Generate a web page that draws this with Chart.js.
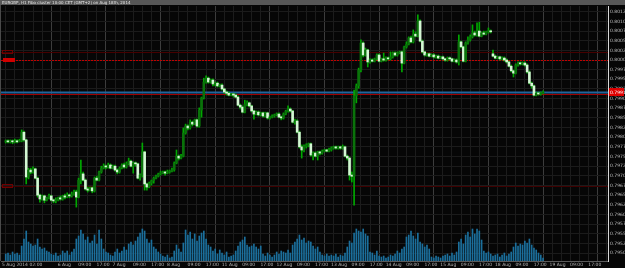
<!DOCTYPE html>
<html lang="en">
<head>
    <meta charset="UTF-8">
    <meta name="viewport" content="width=device-width, initial-scale=1.0">
    <title>EURGBP H1</title>
    <script src="https://cdn.jsdelivr.net/npm/chart.js"></script>
    <style>
        html, body { margin: 0; padding: 0; background: #000; }
        #wrap { position: relative; width: 625px; height: 268px; }
    </style>
</head>
<body>
    <div id="wrap"><canvas id="myChart"></canvas></div>

    <script>
        const chartTitle = "EURGBP, H1 Fibo cluster 10:00 CET (GMT+2) on Aug 18th, 2014";

        // hourly bars, 5 Aug 2014 02:00 -> 18 Aug 2014 22:00
        const opens = [
            0.79788,0.79790,0.79788,0.79790,0.79788,0.79790,0.79788,0.79790,0.79813,0.79793,
            0.79697,0.79715,0.79710,0.79718,0.79694,0.79650,0.79640,0.79648,0.79637,0.79643,
            0.79648,0.79637,0.79635,0.79637,0.79643,0.79640,0.79648,0.79645,0.79650,0.79648,
            0.79653,0.79658,0.79645,0.79689,0.79705,0.79689,0.79666,0.79663,0.79669,0.79661,
            0.79694,0.79689,0.79710,0.79720,0.79725,0.79723,0.79728,0.79720,0.79725,0.79715,
            0.79710,0.79720,0.79728,0.79723,0.79731,0.79738,0.79725,0.79733,0.79731,0.79694,
            0.79702,0.79762,0.79679,0.79671,0.79681,0.79687,0.79694,0.79699,0.79705,0.79707,
            0.79710,0.79707,0.79710,0.79712,0.79715,0.79733,0.79751,0.79746,0.79751,0.79811,
            0.79829,0.79824,0.79839,0.79834,0.79845,0.79829,0.79870,0.79902,0.79943,0.79953,
            0.79943,0.79948,0.79938,0.79940,0.79933,0.79935,0.79925,0.79917,0.79914,0.79909,
            0.79912,0.79909,0.79904,0.79883,0.79878,0.79865,0.79886,0.79889,0.79881,0.79868,
            0.79860,0.79865,0.79858,0.79863,0.79855,0.79863,0.79850,0.79852,0.79855,0.79858,
            0.79860,0.79852,0.79850,0.79860,0.79868,0.79873,0.79868,0.79839,0.79842,0.79813,
            0.79775,0.79767,0.79777,0.79780,0.79783,0.79754,0.79759,0.79751,0.79762,0.79759,
            0.79764,0.79767,0.79764,0.79767,0.79772,0.79775,0.79772,0.79775,0.79772,0.79775,
            0.79751,0.79746,0.79702,0.79699,0.79907,0.79933,0.79974,0.80044,0.80013,0.80026,
            0.79995,0.80000,0.79997,0.80003,0.80013,0.79997,0.80003,0.80000,0.80005,0.80003,
            0.80008,0.80018,0.80013,0.80018,0.80021,0.79992,0.80034,0.80041,0.80057,0.80047,
            0.80067,0.80062,0.80101,0.80049,0.80021,0.80013,0.80016,0.80010,0.80013,0.80008,
            0.80010,0.80005,0.80008,0.80003,0.80000,0.80005,0.80003,0.79997,0.80000,0.79995,
            0.80047,0.80034,0.79997,0.80044,0.80052,0.80060,0.80070,0.80065,0.80075,0.80062,
            0.80070,0.80067,0.80073,0.80075,0.80016,0.80010,0.80005,0.80008,0.80003,0.80005,
            0.80000,0.79995,0.79984,0.79972,0.79966,0.79987,0.79992,0.79990,0.79992,0.79987,
            0.79969,0.79940,0.79933,0.79909,0.79914,0.79912,0.79914
        ];
        const highs = [
            0.79793,0.79793,0.79793,0.79793,0.79795,0.79793,0.79795,0.79819,0.79816,0.79795,
            0.79720,0.79720,0.79723,0.79720,0.79697,0.79653,0.79650,0.79650,0.79645,0.79653,
            0.79650,0.79640,0.79643,0.79645,0.79648,0.79650,0.79653,0.79656,0.79653,0.79658,
            0.79663,0.79663,0.79694,0.79741,0.79710,0.79692,0.79671,0.79671,0.79671,0.79697,
            0.79699,0.79712,0.79725,0.79731,0.79728,0.79733,0.79731,0.79728,0.79728,0.79718,
            0.79723,0.79731,0.79733,0.79736,0.79746,0.79741,0.79736,0.79736,0.79733,0.79705,
            0.79785,0.79764,0.79681,0.79684,0.79689,0.79697,0.79702,0.79707,0.79712,0.79712,
            0.79712,0.79715,0.79715,0.79720,0.79736,0.79767,0.79754,0.79756,0.79824,0.79834,
            0.79832,0.79845,0.79842,0.79847,0.79847,0.79876,0.79904,0.79953,0.79959,0.79956,
            0.79951,0.79951,0.79943,0.79943,0.79938,0.79938,0.79927,0.79920,0.79917,0.79914,
            0.79914,0.79912,0.79907,0.79886,0.79881,0.79896,0.79894,0.79891,0.79883,0.79870,
            0.79868,0.79868,0.79865,0.79865,0.79865,0.79865,0.79855,0.79858,0.79860,0.79863,
            0.79863,0.79855,0.79863,0.79870,0.79881,0.79876,0.79870,0.79847,0.79845,0.79816,
            0.79780,0.79780,0.79783,0.79785,0.79785,0.79762,0.79762,0.79764,0.79764,0.79767,
            0.79769,0.79769,0.79772,0.79775,0.79777,0.79777,0.79777,0.79777,0.79780,0.79777,
            0.79754,0.79749,0.79710,0.79922,0.79938,0.79979,0.80052,0.80047,0.80031,0.80028,
            0.80003,0.80003,0.80005,0.80016,0.80016,0.80005,0.80018,0.80008,0.80008,0.80021,
            0.80021,0.80021,0.80021,0.80023,0.80023,0.80036,0.80047,0.80060,0.80062,0.80078,
            0.80073,0.80117,0.80104,0.80052,0.80023,0.80018,0.80018,0.80016,0.80016,0.80013,
            0.80013,0.80010,0.80010,0.80005,0.80008,0.80008,0.80005,0.80003,0.80003,0.80065,
            0.80049,0.80036,0.80047,0.80060,0.80065,0.80091,0.80075,0.80096,0.80098,0.80073,
            0.80075,0.80075,0.80083,0.80078,0.80026,0.80013,0.80010,0.80010,0.80008,0.80008,
            0.80003,0.79997,0.79987,0.79974,0.79990,0.79995,0.79995,0.79995,0.79995,0.79990,
            0.79972,0.79943,0.79935,0.79917,0.79917,0.79917,0.79920
        ];
        const lows = [
            0.79785,0.79785,0.79785,0.79783,0.79785,0.79785,0.79788,0.79788,0.79790,0.79679,
            0.79692,0.79705,0.79707,0.79692,0.79645,0.79632,0.79637,0.79630,0.79635,0.79640,
            0.79635,0.79630,0.79630,0.79635,0.79637,0.79637,0.79640,0.79643,0.79643,0.79645,
            0.79650,0.79619,0.79643,0.79679,0.79687,0.79663,0.79658,0.79661,0.79656,0.79658,
            0.79687,0.79687,0.79707,0.79718,0.79718,0.79720,0.79718,0.79718,0.79712,0.79705,
            0.79707,0.79718,0.79720,0.79720,0.79728,0.79723,0.79707,0.79725,0.79692,0.79689,
            0.79697,0.79663,0.79663,0.79669,0.79676,0.79681,0.79692,0.79697,0.79702,0.79705,
            0.79702,0.79705,0.79707,0.79710,0.79712,0.79731,0.79741,0.79744,0.79749,0.79808,
            0.79819,0.79821,0.79829,0.79832,0.79826,0.79826,0.79852,0.79899,0.79940,0.79940,
            0.79940,0.79933,0.79933,0.79930,0.79930,0.79922,0.79914,0.79909,0.79907,0.79907,
            0.79904,0.79902,0.79881,0.79873,0.79863,0.79863,0.79881,0.79878,0.79865,0.79847,
            0.79858,0.79855,0.79855,0.79852,0.79852,0.79847,0.79847,0.79850,0.79852,0.79855,
            0.79850,0.79845,0.79847,0.79858,0.79865,0.79865,0.79837,0.79834,0.79811,0.79772,
            0.79746,0.79762,0.79772,0.79775,0.79751,0.79741,0.79749,0.79741,0.79754,0.79756,
            0.79762,0.79762,0.79762,0.79764,0.79769,0.79769,0.79769,0.79769,0.79769,0.79749,
            0.79741,0.79689,0.79684,0.79624,0.79889,0.79927,0.79969,0.80008,0.80010,0.79982,
            0.79992,0.79995,0.79995,0.80000,0.79995,0.79995,0.79997,0.79997,0.80000,0.80000,
            0.80005,0.80010,0.80010,0.80016,0.79969,0.79990,0.80031,0.80039,0.80044,0.80044,
            0.80060,0.80060,0.80047,0.80018,0.80010,0.80010,0.80008,0.80008,0.80005,0.80005,
            0.80003,0.80003,0.80000,0.79997,0.79997,0.80000,0.79995,0.79995,0.79992,0.79987,
            0.80031,0.79995,0.79995,0.80041,0.80049,0.80057,0.80062,0.80062,0.80060,0.80060,
            0.80065,0.80065,0.80070,0.80070,0.80008,0.80003,0.80003,0.80000,0.80000,0.79997,
            0.79992,0.79982,0.79969,0.79956,0.79964,0.79984,0.79987,0.79987,0.79984,0.79966,
            0.79938,0.79927,0.79907,0.79907,0.79909,0.79909,0.79912
        ];
        const closes = [
            0.79790,0.79788,0.79790,0.79788,0.79790,0.79788,0.79790,0.79813,0.79793,0.79697,
            0.79715,0.79710,0.79718,0.79694,0.79650,0.79640,0.79648,0.79637,0.79643,0.79648,
            0.79637,0.79635,0.79637,0.79643,0.79640,0.79648,0.79645,0.79650,0.79648,0.79653,
            0.79658,0.79645,0.79689,0.79705,0.79689,0.79666,0.79663,0.79669,0.79661,0.79694,
            0.79689,0.79710,0.79720,0.79725,0.79723,0.79728,0.79720,0.79725,0.79715,0.79710,
            0.79720,0.79728,0.79723,0.79731,0.79738,0.79725,0.79733,0.79731,0.79694,0.79702,
            0.79762,0.79679,0.79671,0.79681,0.79687,0.79694,0.79699,0.79705,0.79707,0.79710,
            0.79707,0.79710,0.79712,0.79715,0.79733,0.79751,0.79746,0.79751,0.79811,0.79829,
            0.79824,0.79839,0.79834,0.79845,0.79829,0.79870,0.79902,0.79943,0.79953,0.79943,
            0.79948,0.79938,0.79940,0.79933,0.79935,0.79925,0.79917,0.79914,0.79909,0.79912,
            0.79909,0.79904,0.79883,0.79878,0.79865,0.79886,0.79889,0.79881,0.79868,0.79860,
            0.79865,0.79858,0.79863,0.79855,0.79863,0.79850,0.79852,0.79855,0.79858,0.79860,
            0.79852,0.79850,0.79860,0.79868,0.79873,0.79868,0.79839,0.79842,0.79813,0.79775,
            0.79767,0.79777,0.79780,0.79783,0.79754,0.79759,0.79751,0.79762,0.79759,0.79764,
            0.79767,0.79764,0.79767,0.79772,0.79775,0.79772,0.79775,0.79772,0.79775,0.79751,
            0.79746,0.79702,0.79699,0.79907,0.79933,0.79974,0.80044,0.80013,0.80026,0.79995,
            0.80000,0.79997,0.80003,0.80013,0.79997,0.80003,0.80000,0.80005,0.80003,0.80008,
            0.80018,0.80013,0.80018,0.80021,0.79992,0.80034,0.80041,0.80057,0.80047,0.80067,
            0.80062,0.80101,0.80049,0.80021,0.80013,0.80016,0.80010,0.80013,0.80008,0.80010,
            0.80005,0.80008,0.80003,0.80000,0.80005,0.80003,0.79997,0.80000,0.79995,0.80047,
            0.80034,0.79997,0.80044,0.80052,0.80060,0.80070,0.80065,0.80075,0.80062,0.80070,
            0.80067,0.80073,0.80075,0.80073,0.80010,0.80005,0.80008,0.80003,0.80005,0.80000,
            0.79995,0.79984,0.79972,0.79966,0.79987,0.79992,0.79990,0.79992,0.79987,0.79969,
            0.79940,0.79933,0.79909,0.79914,0.79912,0.79914,0.79917
        ];
        const volumes = [
            700,800,600,900,700,800,600,1500,2200,3000,
            1900,1700,1500,1600,2200,1400,1200,1300,1000,900,
            700,600,800,500,600,1000,800,1000,600,900,
            1200,2200,2500,3100,2700,2100,2400,1800,2000,2600,
            1700,3100,2200,1200,900,800,600,500,900,1200,
            800,1000,1400,1100,1700,1900,1600,2000,2400,2800,
            3200,3000,2200,1800,2100,1400,1200,900,700,500,
            400,600,300,400,1000,1600,1200,900,1800,3100,
            2600,2900,2200,2700,2000,2500,2800,3000,2200,1600,
            1400,1000,1200,700,1100,800,600,900,400,500,
            600,1000,1500,1900,2100,2400,1600,1400,1500,1700,
            1400,1200,1500,700,500,800,600,400,600,900,
            700,1000,900,800,1100,800,1600,1900,2200,2600,
            2100,2300,1800,2000,1900,1500,1200,1400,900,600,
            500,700,500,600,500,700,400,600,500,800,
            1400,2000,1800,2800,3200,3000,2900,3200,2700,2500,
            900,800,600,1000,500,400,500,300,400,600,
            500,700,1000,800,1200,1400,2400,2600,3000,2500,
            2200,2800,1900,1700,1400,1600,1200,400,300,500,
            400,300,500,600,700,500,800,600,900,1900,
            2200,1700,2600,2900,2400,3200,2700,3200,3000,2100,
            1000,800,900,700,500,600,700,400,600,800,
            500,700,900,1400,1800,1500,1700,1600,2000,1800,
            2200,1600,1300,1100,800,600,300
        ];

        // time axis labels
        const firstLabel = "5 Aug 2014 02:00";
        const dayLabels = ["6 Aug", "7 Aug", "8 Aug", "11 Aug", "12 Aug", "13 Aug", "14 Aug", "15 Aug", "18 Aug", "19 Aug"];
        const hourLabels = [["09:00", 9], ["17:00", 17]];
        const firstDayIndex = 22;   // bar of 6 Aug 00:00
        const slots = 262;          // bars + empty shift on the right

        // horizontal lines
        const levelPrices = [0.80021, 0.80000, 0.79674];
        const bidPrice = 0.79917;
        const askPrice = 0.79912;

        const gridIdx = [];
        for (let v = 2; v <= slots; v += 4) gridIdx.push(v);

        const overlay = {
            id: "overlay",
            beforeDraw(chart) {
                const ctx = chart.ctx;
                ctx.save();
                ctx.fillStyle = "#060606";
                ctx.fillRect(0, 0, chart.width, chart.height);
                ctx.restore();
            },
            beforeDatasetsDraw(chart) {
                const { ctx, chartArea: a, scales: { y } } = chart;
                ctx.save();
                const lineAt = (p, color, w, dash) => {
                    const py = Math.round(y.getPixelForValue(p)) + 0.5;
                    ctx.strokeStyle = color;
                    ctx.lineWidth = w;
                    ctx.setLineDash(dash);
                    ctx.beginPath();
                    ctx.moveTo(a.left, py);
                    ctx.lineTo(a.right, py);
                    ctx.stroke();
                };
                lineAt(levelPrices[0], "#460000", 1, []);
                lineAt(levelPrices[1], "#c40000", 1, [2, 1]);
                lineAt(levelPrices[2], "#400000", 1, []);
                lineAt(bidPrice, "#21649c", 2, []);
                lineAt(askPrice, "#a00000", 1, []);
                ctx.restore();
            },
            afterDraw(chart) {
                const { ctx, chartArea: a, scales: { x, y } } = chart;
                ctx.save();

                // title bar
                ctx.fillStyle = "#575757";
                ctx.fillRect(0, 0, chart.width, 5);
                ctx.fillStyle = "#e6e6e6";
                ctx.font = "4px 'DejaVu Sans'";
                ctx.textBaseline = "middle";
                ctx.fillText(chartTitle, 2, 2.7);

                // left frame
                ctx.fillStyle = "#4a4a4a";
                ctx.fillRect(0, 5, 1, a.bottom - 5);

                // small tags on the left of the level lines
                levelPrices.forEach((p, k) => {
                    const py = Math.round(y.getPixelForValue(p));
                    if (k === 1) {
                        ctx.fillStyle = "#d00000";
                        ctx.fillRect(3, py - 2, 12, 4);
                    } else {
                        ctx.strokeStyle = "#6e0000";
                        ctx.lineWidth = 1;
                        ctx.setLineDash([]);
                        ctx.strokeRect(2.5, py - 1.5, 10, 3);
                    }
                });

                // time labels
                ctx.fillStyle = "#b4b4b4";
                ctx.font = "4.5px 'DejaVu Sans'";
                ctx.textBaseline = "middle";
                const ty = a.bottom + 3.8;
                ctx.fillText(firstLabel, 2, ty);
                dayLabels.forEach((d, k) => {
                    const s = firstDayIndex + k * 24;
                    ctx.fillText(d, x.getPixelForValue(s) + 2, ty);
                    hourLabels.forEach(([h, off]) => {
                        if (s + off <= slots) ctx.fillText(h, x.getPixelForValue(s + off) + 2, ty);
                    });
                });

                // current price tag
                const by = y.getPixelForValue(bidPrice);
                ctx.fillStyle = "#e00000";
                ctx.fillRect(a.right + 1, by - 4, 15, 8);
                ctx.fillStyle = "#ffffff";
                ctx.fillText(bidPrice.toFixed(5), a.right + 2, by + 0.3);
                ctx.restore();
            }
        };

        const ctx = document.getElementById("myChart").getContext("2d");
        const myChart = new Chart(ctx, {
            type: "bar",
            data: {
                datasets: [
                    {
                        label: "Volume",
                        data: volumes.map((v, i) => ({ x: i, y: v })),
                        yAxisID: "yv",
                        backgroundColor: "#1b6f9c",
                        barThickness: 1,
                        grouped: false,
                        order: 3
                    },
                    {
                        label: "Wick",
                        data: lows.map((l, i) => ({ x: i, y: [l, highs[i]] })),
                        yAxisID: "y",
                        backgroundColor: "#00a800",
                        barThickness: 1,
                        grouped: false,
                        order: 2
                    },
                    {
                        label: "Body",
                        data: opens.map((o, i) => ({ x: i, y: [o, closes[i]] })),
                        yAxisID: "y",
                        backgroundColor: c => closes[c.dataIndex] < opens[c.dataIndex] ? "#d4f7d4" : "#0a720a",
                        barThickness: 2,
                        minBarLength: 1,
                        grouped: false,
                        order: 1
                    }
                ]
            },
            options: {
                responsive: true,
                maintainAspectRatio: false,
                animation: false,
                layout: { padding: { top: 6, left: 1, right: 0, bottom: 0 } },
                plugins: { legend: { display: false }, tooltip: { enabled: false } },
                scales: {
                    x: {
                        type: "linear",
                        min: -0.06,
                        max: 262.5,
                        afterBuildTicks(s) { s.ticks = gridIdx.map(v => ({ value: v })); },
                        afterFit(s) { s.height = 7; },
                        ticks: { display: false },
                        grid: {
                            drawTicks: false,
                            color: c => (c.tick && (c.tick.value - firstDayIndex) % 24 === 0) ? "#3c3c3c" : "#1c1c1c"
                        },
                        border: { color: "#5a5a5a" }
                    },
                    y: {
                        position: "right",
                        min: 0.794794,
                        max: 0.801399,
                        afterFit(s) { s.width = 17; },
                        ticks: {
                            stepSize: 0.00025,
                            includeBounds: false,
                            autoSkip: false,
                            padding: 2,
                            color: "#bdbdbd",
                            font: { size: 4.5, family: "DejaVu Sans" },
                            callback: v => v.toFixed(5)
                        },
                        grid: { drawTicks: false, color: "#1b1b1b" },
                        border: { color: "#d8d8d8" }
                    },
                    yv: { display: false, min: 0, max: 25500 }
                }
            },
            plugins: [overlay]
        });
    </script>
</body>
</html>
